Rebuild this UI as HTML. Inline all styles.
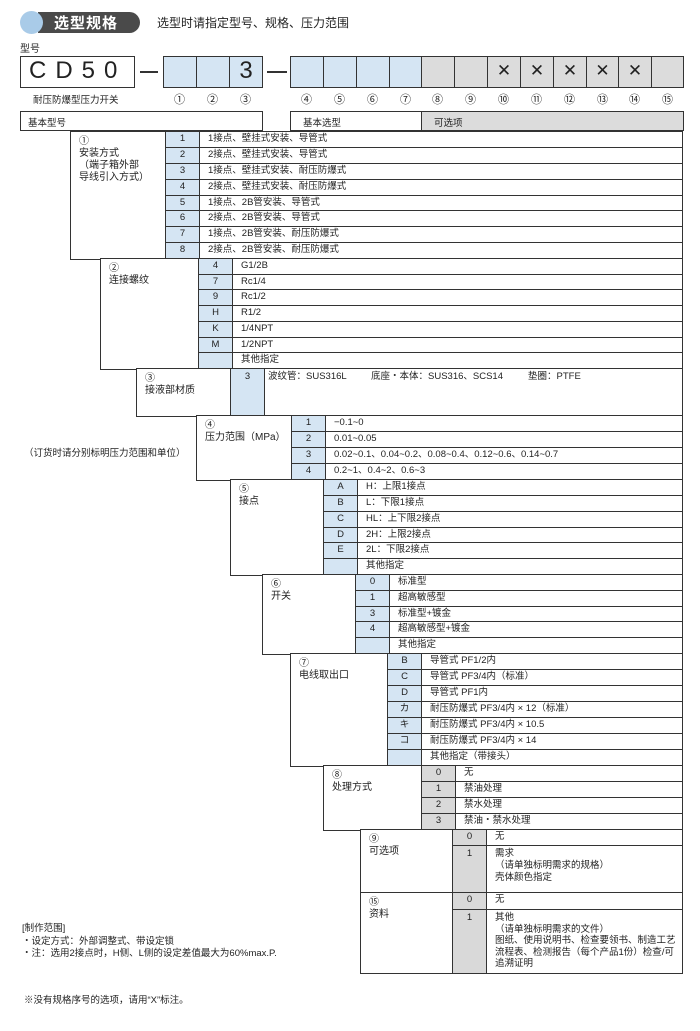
<!DOCTYPE html>
<html><head><meta charset="utf-8">
<style>
body{margin:0;background:#fff;width:700px;height:1031px;position:relative;overflow:hidden;font-family:"Liberation Sans","Noto Sans CJK SC",sans-serif;color:#222}
div,span{position:absolute;box-sizing:border-box}
.b{border:1.5px solid #333;background:#fff}
.r{border:1.5px solid #333;background:#fff;font-size:9.5px;padding-left:42px;line-height:14.5px;padding-top:0px;white-space:nowrap}
.r i{position:absolute;left:0;top:0;bottom:0;width:33px;background:#d5e5f3;border-right:1.5px solid #333;font-style:normal;text-align:center}
.g i{background:#d9d9d9}
.lb{font-size:10px;line-height:12px;padding:4px 0 0 8px;white-space:nowrap}
.hb{border:1.5px solid #333;height:32px;top:56px}
.n{font-size:11px;top:91px;text-align:center;width:33px}
</style></head><body>
<!-- header -->
<div style="left:38px;top:12px;width:102px;height:21px;background:#4a4a4a;border-radius:0 11px 11px 0"></div>
<div style="left:20px;top:11px;width:23px;height:23px;border-radius:50%;background:#a9cbe8"></div>
<div style="left:54px;top:12px;font-size:15px;font-weight:bold;color:#fff;letter-spacing:1px">选型规格</div>
<div style="left:157px;top:14px;font-size:12px">选型时请指定型号、规格、压力范围</div>
<div style="left:20px;top:40px;font-size:10px">型号</div>
<div class="hb" style="left:20px;width:115px;font-size:24px;line-height:28px;letter-spacing:9px;padding-left:8px">CD50</div>
<div style="left:140px;top:71px;width:18px;height:1.5px;background:#333"></div>
<div class="hb" style="left:163px;width:34px;background:#d5e5f3"></div>
<div class="hb" style="left:196px;width:34px;background:#d5e5f3"></div>
<div class="hb" style="left:229px;width:34px;background:#d5e5f3;font-size:24px;line-height:28px;text-align:center">3</div>
<div style="left:267px;top:71px;width:20px;height:1.5px;background:#333"></div>
<div class="hb" style="left:290px;width:34px;background:#d5e5f3"></div>
<div class="hb" style="left:323px;width:34px;background:#d5e5f3"></div>
<div class="hb" style="left:356px;width:34px;background:#d5e5f3"></div>
<div class="hb" style="left:389px;width:33px;background:#d5e5f3"></div>
<div class="hb" style="left:421px;width:34px;background:#dcdcdc"></div>
<div class="hb" style="left:454px;width:34px;background:#dcdcdc"></div>
<div class="hb" style="left:487px;width:34px;background:#dcdcdc;font-size:17px;line-height:28px;text-align:center">✕</div>
<div class="hb" style="left:520px;width:34px;background:#dcdcdc;font-size:17px;line-height:28px;text-align:center">✕</div>
<div class="hb" style="left:553px;width:34px;background:#dcdcdc;font-size:17px;line-height:28px;text-align:center">✕</div>
<div class="hb" style="left:586px;width:33px;background:#dcdcdc;font-size:17px;line-height:28px;text-align:center">✕</div>
<div class="hb" style="left:618px;width:34px;background:#dcdcdc;font-size:17px;line-height:28px;text-align:center">✕</div>
<div class="hb" style="left:651px;width:33px;background:#dcdcdc"></div>
<div style="left:33px;top:92px;font-size:9.5px">耐压防爆型压力开关</div>
<div class="n" style="left:163px">①</div><div class="n" style="left:196px">②</div><div class="n" style="left:229px">③</div>
<div class="n" style="left:290px">④</div><div class="n" style="left:323px">⑤</div><div class="n" style="left:356px">⑥</div><div class="n" style="left:389px">⑦</div>
<div class="n" style="left:421px">⑧</div><div class="n" style="left:454px">⑨</div><div class="n" style="left:487px">⑩</div><div class="n" style="left:520px">⑪</div>
<div class="n" style="left:553px">⑫</div><div class="n" style="left:586px">⑬</div><div class="n" style="left:618px">⑭</div><div class="n" style="left:651px">⑮</div>
<div class="b" style="left:20px;top:111px;width:243px;height:20px;font-size:9.5px;padding:3px 0 0 7px">基本型号</div>
<div class="b" style="left:290px;top:111px;width:132px;height:20px;font-size:9.5px;padding:3px 0 0 12px">基本选型</div>
<div class="b" style="left:421px;top:111px;width:263px;height:20px;font-size:9.5px;padding:3px 0 0 12px;background:#dcdcdc">可选项</div>

<!-- sec1 -->
<div class="b lb" style="left:70px;top:131px;width:97px;height:128.5px">①<br>安装方式<br>（端子箱外部<br>导线引入方式）</div>
<div class="r" style="left:165px;top:131px;width:518px;height:17.4px"><i>1</i>1接点、壁挂式安装、导管式</div>
<div class="r" style="left:165px;top:146.9px;width:518px;height:17.4px"><i>2</i>2接点、壁挂式安装、导管式</div>
<div class="r" style="left:165px;top:162.75px;width:518px;height:17.4px"><i>3</i>1接点、壁挂式安装、耐压防爆式</div>
<div class="r" style="left:165px;top:178.6px;width:518px;height:17.4px"><i>4</i>2接点、壁挂式安装、耐压防爆式</div>
<div class="r" style="left:165px;top:194.5px;width:518px;height:17.4px"><i>5</i>1接点、2B管安装、导管式</div>
<div class="r" style="left:165px;top:210.4px;width:518px;height:17.4px"><i>6</i>2接点、2B管安装、导管式</div>
<div class="r" style="left:165px;top:226.25px;width:518px;height:17.4px"><i>7</i>1接点、2B管安装、耐压防爆式</div>
<div class="r" style="left:165px;top:242.1px;width:518px;height:17.4px"><i>8</i>2接点、2B管安装、耐压防爆式</div>
<!-- sec2 -->
<div class="b lb" style="left:100px;top:258px;width:100px;height:111.5px">②<br>连接螺纹</div>
<div class="r" style="left:198px;top:258px;width:485px;height:17.2px"><i>4</i>G1/2B</div>
<div class="r" style="left:198px;top:273.7px;width:485px;height:17.2px"><i>7</i>Rc1/4</div>
<div class="r" style="left:198px;top:289.4px;width:485px;height:17.2px"><i>9</i>Rc1/2</div>
<div class="r" style="left:198px;top:305.1px;width:485px;height:17.2px"><i>H</i>R1/2</div>
<div class="r" style="left:198px;top:320.8px;width:485px;height:17.2px"><i>K</i>1/4NPT</div>
<div class="r" style="left:198px;top:336.6px;width:485px;height:17.2px"><i>M</i>1/2NPT</div>
<div class="r" style="left:198px;top:352.3px;width:485px;height:17.2px"><i></i>其他指定</div>
<!-- sec3 -->
<div class="b lb" style="left:136px;top:368px;width:96px;height:48.5px">③<br>接液部材质</div>
<div class="r" style="left:230px;top:368px;width:453px;height:48.5px;padding-top:1px"><i style="padding-top:1px">3</i><span style="left:37px;top:1px">波纹管：SUS316L</span><span style="left:140px;top:1px">底座・本体：SUS316、SCS14</span><span style="left:297px;top:1px">垫圈：PTFE</span></div>
<!-- sec4 -->
<div style="left:24px;top:445px;font-size:9.5px">（订货时请分别标明压力范围和单位）</div>
<div class="b lb" style="left:196px;top:415px;width:97px;height:65.5px">④<br>压力范围（MPa）</div>
<div class="r" style="left:291px;top:415px;width:392px;height:17.5px"><i>1</i>−0.1~0</div>
<div class="r" style="left:291px;top:431px;width:392px;height:17.5px"><i>2</i>0.01~0.05</div>
<div class="r" style="left:291px;top:447px;width:392px;height:17.5px"><i>3</i>0.02~0.1、0.04~0.2、0.08~0.4、0.12~0.6、0.14~0.7</div>
<div class="r" style="left:291px;top:463px;width:392px;height:17.5px"><i>4</i>0.2~1、0.4~2、0.6~3</div>
<!-- sec5 -->
<div class="b lb" style="left:230px;top:479px;width:95px;height:96.5px">⑤<br>接点</div>
<div class="r" style="left:323px;top:479px;width:360px;height:17.3px"><i>A</i>H：上限1接点</div>
<div class="r" style="left:323px;top:494.8px;width:360px;height:17.3px"><i>B</i>L：下限1接点</div>
<div class="r" style="left:323px;top:510.7px;width:360px;height:17.3px"><i>C</i>HL：上下限2接点</div>
<div class="r" style="left:323px;top:526.5px;width:360px;height:17.3px"><i>D</i>2H：上限2接点</div>
<div class="r" style="left:323px;top:542.3px;width:360px;height:17.3px"><i>E</i>2L：下限2接点</div>
<div class="r" style="left:323px;top:558.2px;width:360px;height:17.3px"><i></i>其他指定</div>
<!-- sec6 -->
<div class="b lb" style="left:262px;top:574px;width:95px;height:80.5px">⑥<br>开关</div>
<div class="r" style="left:355px;top:574px;width:328px;height:17.3px"><i>0</i>标准型</div>
<div class="r" style="left:355px;top:589.8px;width:328px;height:17.3px"><i>1</i>超高敏感型</div>
<div class="r" style="left:355px;top:605.6px;width:328px;height:17.3px"><i>3</i>标准型+镀金</div>
<div class="r" style="left:355px;top:621.4px;width:328px;height:17.3px"><i>4</i>超高敏感型+镀金</div>
<div class="r" style="left:355px;top:637.2px;width:328px;height:17.3px"><i></i>其他指定</div>
<!-- sec7 -->
<div class="b lb" style="left:290px;top:653px;width:99px;height:113.5px">⑦<br>电线取出口</div>
<div class="r" style="left:387px;top:653px;width:296px;height:17.5px"><i>B</i>导管式 PF1/2内</div>
<div class="r" style="left:387px;top:669px;width:296px;height:17.5px"><i>C</i>导管式 PF3/4内（标准）</div>
<div class="r" style="left:387px;top:685px;width:296px;height:17.5px"><i>D</i>导管式 PF1内</div>
<div class="r" style="left:387px;top:701px;width:296px;height:17.5px"><i>カ</i>耐压防爆式 PF3/4内 × 12（标准）</div>
<div class="r" style="left:387px;top:717px;width:296px;height:17.5px"><i>キ</i>耐压防爆式 PF3/4内 × 10.5</div>
<div class="r" style="left:387px;top:733px;width:296px;height:17.5px"><i>コ</i>耐压防爆式 PF3/4内 × 14</div>
<div class="r" style="left:387px;top:749px;width:296px;height:17.5px"><i></i>其他指定（带接头）</div>
<!-- sec8 -->
<div class="b lb" style="left:323px;top:765px;width:100px;height:65.5px">⑧<br>处理方式</div>
<div class="r g" style="left:421px;top:765px;width:262px;height:17.5px"><i>0</i>无</div>
<div class="r g" style="left:421px;top:781px;width:262px;height:17.5px"><i>1</i>禁油处理</div>
<div class="r g" style="left:421px;top:797px;width:262px;height:17.5px"><i>2</i>禁水处理</div>
<div class="r g" style="left:421px;top:813px;width:262px;height:17.5px"><i>3</i>禁油・禁水处理</div>
<!-- sec9 -->
<div class="b lb" style="left:360px;top:829px;width:94px;height:64.5px">⑨<br>可选项</div>
<div class="r g" style="left:452px;top:829px;width:231px;height:17.5px"><i>0</i>无</div>
<div class="r g" style="left:452px;top:845px;width:231px;height:48.5px;line-height:12px;padding-top:2px"><i style="padding-top:2px">1</i>需求<br>（请单独标明需求的规格）<br>壳体颜色指定</div>
<!-- sec15 -->
<div class="b lb" style="left:360px;top:892px;width:94px;height:81.5px">⑮<br>资料</div>
<div class="r g" style="left:452px;top:892px;width:231px;height:18.5px"><i>0</i>无</div>
<div class="r g" style="left:452px;top:909px;width:231px;height:64.5px;line-height:11.5px;padding-top:2px"><i style="padding-top:2px">1</i>其他<br>（请单独标明需求的文件）<br>图纸、使用说明书、检查要领书、制造工艺<br>流程表、检测报告（每个产品1份）检查/可<br>追溯证明</div>

<div style="left:22px;top:923px;font-size:9.5px;line-height:12.5px;white-space:nowrap">[制作范围]<br>・设定方式：外部调整式、带设定锁<br>・注：选用2接点时，H侧、L侧的设定差值最大为60%max.P.</div>
<div style="left:24px;top:992px;font-size:9.5px">※没有规格序号的选项，请用“X”标注。</div>
</body></html>
